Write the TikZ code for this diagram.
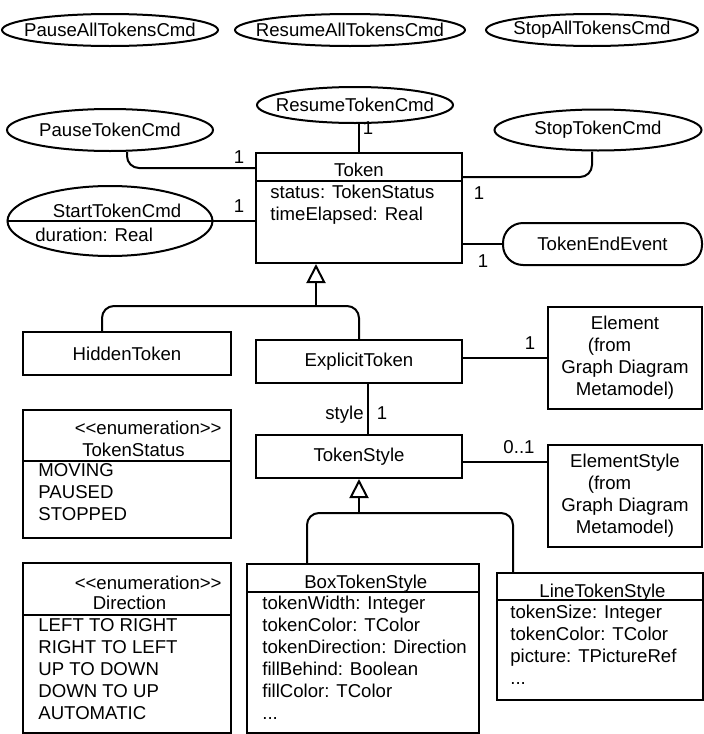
\documentclass[tikz,border=0pt]{standalone}
\usepackage{fontspec}
\setmainfont{Liberation Sans}
\usepackage{tikz}
\usetikzlibrary{shapes.geometric, arrows.meta}
\newcommand{\umlfont}{\fontsize{9.3pt}{11pt}\selectfont}
\newcommand{\cmdname}[1]{\makebox[0pt]{#1}}
\tikzset{
    cls/.style  = {draw, line width=1pt, inner sep=0pt, align=center, font=\umlfont},
    cmd/.style  = {draw, ellipse, line width=1pt, inner sep=0pt, font=\umlfont},
    evt/.style  = {draw, rounded corners=10pt, line width=1pt, inner sep=0pt, font=\umlfont},
    ttl/.style  = {inner sep=0pt, anchor=base, font=\umlfont},
    attr/.style = {inner sep=0pt, anchor=north west, align=left, font=\umlfont,
                   execute at begin node=\strut},
    sep/.style  = {line width=1pt},
    link/.style = {line width=1pt, rounded corners=6pt},
    gen/.style  = {link, -{Triangle[open, length=9.5pt, width=9.5pt]}},
    mult/.style = {inner sep=0pt, anchor=base, font=\umlfont}
}

\begin{document}
\begin{tikzpicture}[x=0.5pt, y=-0.5pt]
    \useasboundingbox (0,0) rectangle (704,734);

    % --- commands ---
    \node[cmd, minimum width=108pt,   minimum height=16pt]   (pauseall)  at (110,30)  {\cmdname{PauseAllTokensCmd}};
    \node[cmd, minimum width=115pt,   minimum height=16pt]   (resumeall) at (350,30)  {\cmdname{ResumeAllTokensCmd}};
    \node[cmd, minimum width=106pt,   minimum height=16pt]   (stopall)   at (592,30)  {\cmdname{StopAllTokensCmd}};
    \node[cmd, minimum width=98pt,    minimum height=18pt]   (resume)    at (355,105) {\cmdname{ResumeTokenCmd}};
    \node[cmd, minimum width=103pt,   minimum height=21pt]   (pause)     at (110,130) {\cmdname{PauseTokenCmd}};
    \node[cmd, minimum width=103.5pt, minimum height=20.5pt] (stop)      at (598,130) {\cmdname{StopTokenCmd}};
    \node[cmd, minimum width=102.5pt, minimum height=35pt]   (start)     at (110,221) {};
    \node[ttl] (starttitle) at (117,217.7) {StartTokenCmd};
    \node[ttl, anchor=base west] (startattr) at (35,241.7) {duration: Real};
    \draw[sep] (start.west) -- (start.east);

    % --- Token ---
    \node[cls, minimum width=103pt, minimum height=55pt] (token) at (359,208) {};
    \node[ttl] (tokentitle) at (359,176.7) {Token};
    \draw[sep] ([yshift=-14.5pt]token.north west) -- ([yshift=-14.5pt]token.north east);
    \node[attr] (tokenattr) at (270,184.3) {status: TokenStatus\\timeElapsed: Real};

    \node[evt, minimum width=99.5pt, minimum height=21pt] (endev) at (602.5,244) {TokenEndEvent};

    \draw[link] (resume.south -| token.north) -- (token.north);
    \draw[link] ([xshift=8.5pt]pause.south) |- ([yshift=-8pt]token.north west);
    \draw[link] ([xshift=-3pt]stop.south) |- ([yshift=-12.5pt]token.north east);
    \draw[link] (start.east) -- (start.east -| token.west);
    \draw[link] (endev.west) -- (endev.west -| token.east);
    \node[mult] (m1) at (368,134.7) {1};
    \node[mult] (m2) at (239,163.7) {1};
    \node[mult] (m3) at (239,212.7) {1};
    \node[mult] (m4) at (479,199.7) {1};
    \node[mult] (m5) at (483,267.7) {1};

    % --- subclasses of Token ---
    \node[cls, minimum width=104pt, minimum height=21.5pt] (hidden)   at (127,353.5) {HiddenToken};
    \node[cls, minimum width=103pt, minimum height=21.5pt] (explicit) at (359,361.5) {ExplicitToken};
    \coordinate (gen1) at (316,306);
    \draw[link] ([xshift=-12.5pt]hidden.north) |- (gen1) -| (explicit.north);
    \draw[gen] (gen1) -- (gen1 |- token.south);

    \node[cls, minimum width=77pt, minimum height=51pt] (element) at (625,358)
        {Element\\(from\hphantom{mm}\\Graph Diagram\\Metamodel)};
    \draw[link] ([yshift=2pt]explicit.east) -- ([yshift=2pt]explicit.east -| element.west);
    \node[mult] (m6) at (530,349.7) {1};

    % --- styles ---
    \node[cls, minimum width=103pt, minimum height=21.5pt] (tokenstyle) at (359,456.5) {TokenStyle};
    \draw[link] ([xshift=4.5pt]explicit.south) -- ([xshift=4.5pt]explicit.south |- tokenstyle.north);
    \node[mult, anchor=base east] (role) at (364,419.7) {style};
    \node[mult] (m7) at (382,419.7) {1};

    \node[cls, minimum width=77pt, minimum height=51pt] (elementstyle) at (625,496)
        {ElementStyle\\(from\hphantom{mm}\\Graph Diagram\\Metamodel)};
    \draw[link] ([yshift=-2.5pt]tokenstyle.east) -- ([yshift=-2.5pt]tokenstyle.east -| elementstyle.west);
    \node[mult] (m8) at (519,453.7) {0..1};

    \node[cls, minimum width=116pt, minimum height=84.5pt] (boxstyle) at (363,648.5) {};
    \node[ttl] (boxtitle) at (365.8,588.7) {BoxTokenStyle};
    \draw[sep] ([yshift=-14.5pt]boxstyle.north west) -- ([yshift=-14.5pt]boxstyle.north east);
    \node[attr] (boxattr) at (262,595.3)
        {tokenWidth: Integer\\tokenColor: TColor\\tokenDirection: Direction\\fillBehind: Boolean\\fillColor: TColor\\...};

    \node[cls, minimum width=103pt, minimum height=63.5pt] (linestyle) at (600,636.5) {};
    \node[ttl] (linetitle) at (602.5,597.7) {LineTokenStyle};
    \draw[sep] ([yshift=-14pt]linestyle.north west) -- ([yshift=-14pt]linestyle.north east);
    \node[attr] (lineattr) at (510,604.3)
        {tokenSize: Integer\\tokenColor: TColor\\picture: TPictureRef\\...};

    \coordinate (gen2) at (359,513);
    \draw[link] ([xshift=-28pt]boxstyle.north) |- (gen2) -| ([xshift=-43.5pt]linestyle.north);
    \draw[gen] (gen2) -- (tokenstyle.south);

    % --- enumerations ---
    \node[cls, minimum width=104pt, minimum height=64pt] (status) at (127,474) {};
    \node[ttl, anchor=base east] (statusst) at (222,434.7) {<{}<enumeration>{}>};
    \node[ttl] (statusname) at (133.5,456.7) {TokenStatus};
    \draw[sep] ([yshift=-26pt]status.north west) -- ([yshift=-26pt]status.north east);
    \node[attr] (statusval) at (38,463.3) {MOVING\\PAUSED\\STOPPED};

    \node[cls, minimum width=104pt, minimum height=85pt] (direction) at (127,648) {};
    \node[ttl, anchor=base east] (dirst) at (222,589.7) {<{}<enumeration>{}>};
    \node[ttl] (dirname) at (129.5,609.7) {Direction};
    \draw[sep] ([yshift=-26.5pt]direction.north west) -- ([yshift=-26.5pt]direction.north east);
    \node[attr] (dirval) at (38,618.3)
        {LEFT TO RIGHT\\RIGHT TO LEFT\\UP TO DOWN\\DOWN TO UP\\AUTOMATIC};
\end{tikzpicture}
\end{document}
